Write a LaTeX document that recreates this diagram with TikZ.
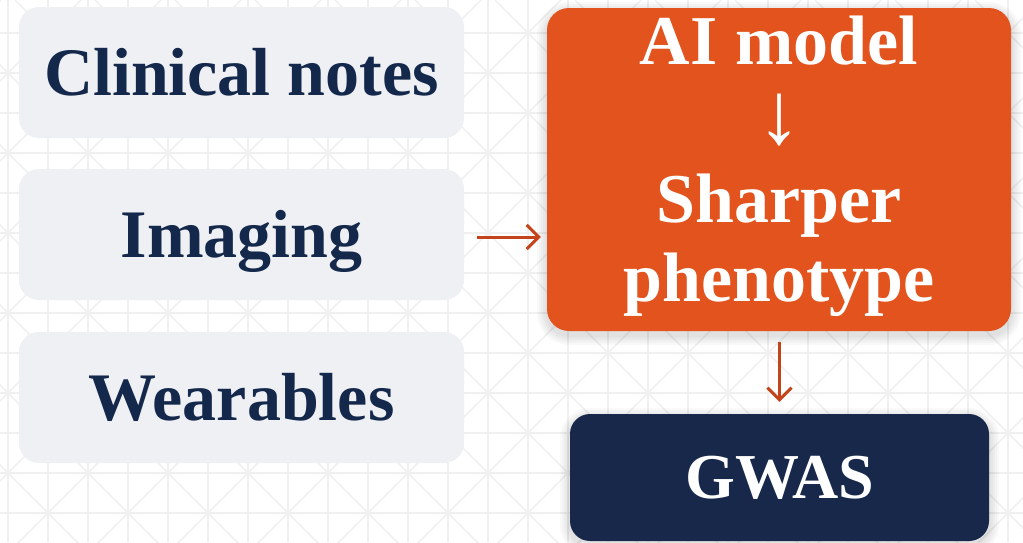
\documentclass[tikz,border=0pt]{standalone}
\usepackage{fontspec}
\setmainfont{Liberation Serif}
\usetikzlibrary{arrows.meta,calc}
\definecolor{bgline}{HTML}{F0F0F0}
\definecolor{lightbox}{HTML}{EFF0F4}
\definecolor{navytext}{HTML}{14284B}
\definecolor{orangebox}{HTML}{E2531D}
\definecolor{navybox}{HTML}{17284B}
\definecolor{arrowcol}{HTML}{C4431A}
\begin{document}
\begin{tikzpicture}[x=1pt,y=-1pt,
  bgl/.style={draw=bgline, line width=1.5pt},
  shadowlayer/.style={fill=black, fill opacity=0.025, draw=none},
  srcbox/.style={fill=lightbox, rounded corners=20pt, minimum width=445pt,
    minimum height=131pt, inner sep=0pt, text=navytext,
    font=\fontsize{68}{79}\selectfont\bfseries, text height=45pt, text depth=0pt},
  aibox/.style={fill=orangebox, rounded corners=22pt, minimum width=464pt,
    minimum height=323pt, inner sep=0pt, text=white, align=center,
    font=\fontsize{70}{79}\selectfont\bfseries},
  gwasbox/.style={fill=navybox, rounded corners=20pt, minimum width=419pt,
    minimum height=127pt, inner sep=0pt, text=white,
    font=\fontsize{64}{76}\selectfont\bfseries, text height=42pt, text depth=0pt},
  conn/.style={draw=arrowcol, line width=3pt, -{Straight Barb[length=12pt,width=24pt]}}
]
\useasboundingbox (0,0) rectangle (1023,542);
\fill[white] (0,0) rectangle (1023,542);
\begin{scope}
  \clip (0,0) rectangle (1023,542);
  \foreach \k in {0,...,25} { \draw[bgl] ({8+40*\k},0) -- ({8+40*\k},542); }
  \foreach \k in {0,...,12} { \draw[bgl] (0,{33+40*\k}) -- (1023,{33+40*\k}); }
  \foreach \k in {0,...,20} { \draw[bgl] ({1+80*\k},0) -- ({1+80*\k-600},600); }
  \foreach \k in {-8,...,13} { \draw[bgl] ({15+80*\k},0) -- ({15+80*\k+600},600); }
  % soft shadows
  \foreach \s in {2,4,6,8,10} {
    \fill[shadowlayer, rounded corners={22+\s}] ({547-\s},{8+4-\s}) rectangle ({1011+\s},{331+4+\s});
    \fill[shadowlayer, rounded corners={20+\s}] ({570-\s},{414+4-\s}) rectangle ({989+\s},{541+4+\s});
  }
\end{scope}

\node[srcbox] (notes) at (241.5,72.5) {Clinical notes};
\node[srcbox] (img) at (241.5,234.5) {Imaging};
\node[srcbox] (wear) at (241.5,397.5) {Wearables};

\node[aibox] (ai) at (779,169.5) {AI model\\{\mdseries\fontsize{88}{79}\selectfont ↓}\\Sharper\\phenotype\rule[-22pt]{0pt}{0pt}};
\node[gwasbox] (gwas) at (779.5,477.5) {GWAS};

\draw[conn] ($(img.east)+(13,2.5)$) -- ($(ai.west |- img.east)+(-6,2.5)$);
\draw[conn] ($(gwas.north |- ai.south)+(0,11)$) -- ($(gwas.north)+(0,-12)$);
\end{tikzpicture}
\end{document}
